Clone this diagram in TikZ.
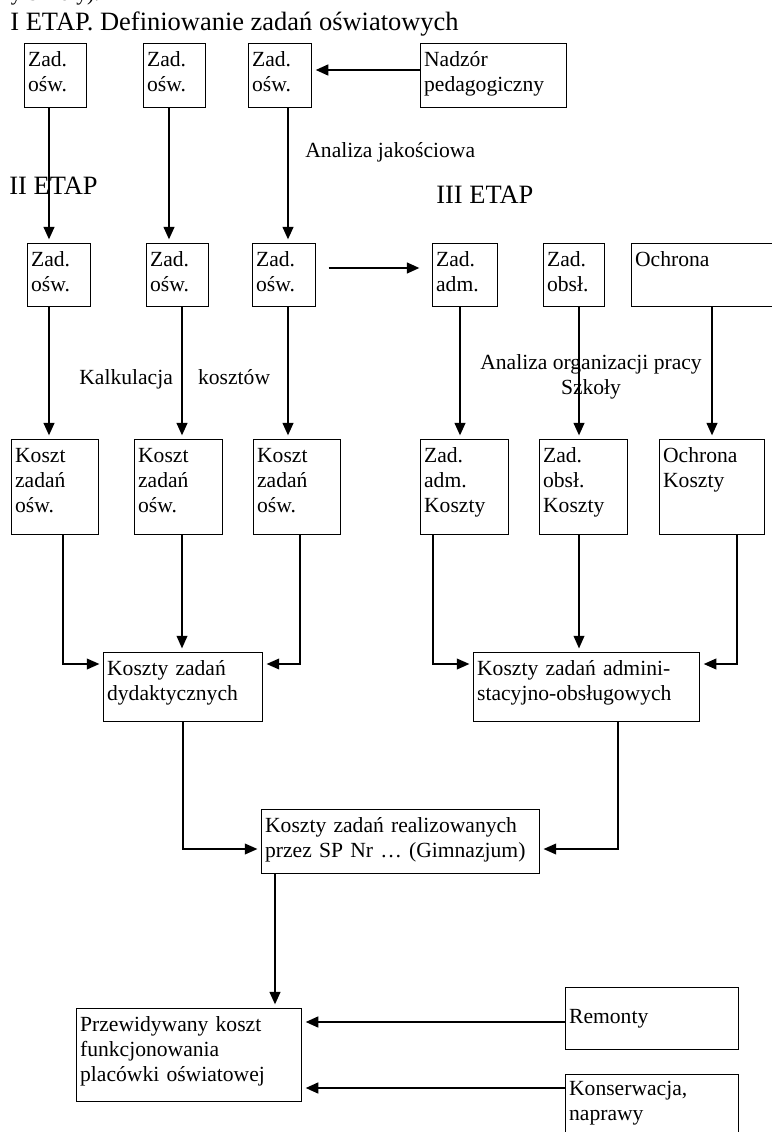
\documentclass[tikz,border=0pt]{standalone}
\usepackage{fontspec}
\setmainfont{Liberation Serif}
\usetikzlibrary{arrows.meta}

\tikzset{
    box/.style={draw, line width=0.6pt, anchor=north west, align=left,
        inner xsep=2pt, inner ysep=0pt, text height=13pt,
        font=\fontsize{12}{13.8}\selectfont},
    note/.style={inner sep=0pt, font=\fontsize{12}{13.8}\selectfont},
    stage/.style={inner sep=0pt, font=\fontsize{14.7}{17.6}\selectfont},
    flow/.style={line width=1.1pt, -{Triangle[length=7pt,width=6pt]}, shorten >=2pt},
    thin flow/.style={flow, line width=0.75pt},
}

\begin{document}
\begin{tikzpicture}[x=0.5556pt, y=-0.5556pt]
    \useasboundingbox (0,0) rectangle (772,1132);
    \clip (0,0) rectangle (772,1132);

    \node[note, anchor=base east] (prev) at (100,1) {y Szkoły).};
    \node[stage, anchor=base west] (etap1) at (10,31) {I ETAP. Definiowanie zadań oświatowych};
    \node[stage, anchor=base west] (etap2) at (9,195) {II ETAP};
    \node[stage, anchor=base west] (etap3) at (436,204) {III ETAP};
    \node[note, anchor=base west] (jakosc) at (305,158) {Analiza jakościowa};
    \node[note, anchor=base west] (kalk) at (79,384) {Kalkulacja\hspace{14pt}kosztów};
    \node[note, anchor=north, align=center] (organiz) at (591,354) {Analiza organizacji pracy\\Szkoły};

    \node[box, text width=30.4pt, text depth=22.6pt] (zad1) at (24,43) {Zad.\\ośw.};
    \node[box, text width=30.4pt, text depth=22.6pt] (zad2) at (143,43) {Zad.\\ośw.};
    \node[box, text width=31pt, text depth=22.6pt] (zad3) at (248,43) {Zad.\\ośw.};
    \node[box, text width=77.1pt, text depth=22.6pt] (nadzor) at (420,43) {Nadzór\\pedagogiczny};

    \node[box, text width=31pt, text depth=22pt] (dz1) at (27,243) {Zad.\\ośw.};
    \node[box, text width=30.4pt, text depth=22pt] (dz2) at (146,243) {Zad.\\ośw.};
    \node[box, text width=31pt, text depth=22pt] (dz3) at (252,243) {Zad.\\ośw.};
    \node[box, text width=32.1pt, text depth=22pt] (adm) at (432,243) {Zad.\\adm.};
    \node[box, text width=29.9pt, text depth=22pt] (obsl) at (543,243) {Zad.\\obsł.};
    \node[box, text width=84.9pt, text depth=22pt] (ochr) at (631,243) {Ochrona};

    \node[box, text width=44.3pt, text depth=39.8pt] (kd1) at (11,439) {Koszt\\zadań\\ośw.};
    \node[box, text width=44.9pt, text depth=39.8pt] (kd2) at (134,439) {Koszt\\zadań\\ośw.};
    \node[box, text width=44.3pt, text depth=39.8pt] (kd3) at (253,439) {Koszt\\zadań\\ośw.};
    \node[box, text width=44.9pt, text depth=39.8pt] (kadm) at (420,439) {Zad.\\adm.\\Koszty};
    \node[box, text width=44.9pt, text depth=39.8pt] (kobsl) at (539,439) {Zad.\\obsł.\\Koszty};
    \node[box, text width=54.3pt, text depth=39.8pt] (kochr) at (659,439) {Ochrona\\Koszty};

    \node[box, text width=84.3pt, text depth=25.3pt] (dyd) at (103,652) {Koszty zadań\\dydaktycznych};
    \node[box, text width=121.6pt, text depth=25.3pt] (admobs) at (473,652) {Koszty zadań admini-\\stacyjno-obsługowych};
    \node[box, text width=150.4pt, text depth=22.6pt] (szkola) at (261,809) {Koszty zadań realizowanych\\przez SP Nr … (Gimnazjum)};
    \node[box, text width=121pt, text depth=38.7pt] (koszt) at (76,1008) {Przewidywany koszt\\funkcjonowania\\placówki oświatowej};
    \node[box, text width=92.1pt, text height=20pt, text depth=14.4pt] (remonty) at (565,987) {Remonty};
    \node[box, text width=92.1pt, text height=11.7pt, text depth=38.3pt] (konserw) at (565,1074) {Konserwacja,\\naprawy};

    \foreach \n/\x in {a/49, b/169, c/288, d/182, e/460, f/579, g/712, h/63, i/300, j/433, k/737, l/183, m/618, n/275}
        \coordinate (v\n) at (\x,0);
    \foreach \n/\y in {a/70, b/268, c/664, d/849, e/1022, f/1088}
        \coordinate (h\n) at (0,\y);

    \draw[flow] (zad1.south -| va) -- (dz1.north -| va);
    \draw[flow] (zad2.south -| vb) -- (dz2.north -| vb);
    \draw[flow] (zad3.south -| vc) -- (dz3.north -| vc);
    \draw[flow] (nadzor.west |- ha) -- (zad3.east |- ha);
    \draw[flow] (dz1.south -| va) -- (kd1.north -| va);
    \draw[flow] (dz2.south -| vd) -- (kd2.north -| vd);
    \draw[flow] (dz3.south -| vc) -- (kd3.north -| vc);
    \draw[flow, shorten <=7pt, shorten >=7pt] (dz3.east |- hb) -- (adm.west |- hb);
    \draw[flow] (adm.south -| ve) -- (kadm.north -| ve);
    \draw[flow] (obsl.south -| vf) -- (kobsl.north -| vf);
    \draw[flow] (ochr.south -| vg) -- (kochr.north -| vg);
    \draw[thin flow] (kd1.south -| vh) |- (dyd.west |- hc);
    \draw[thin flow] (kd2.south -| vd) -- (dyd.north -| vd);
    \draw[thin flow] (kd3.south -| vi) |- (dyd.east |- hc);
    \draw[thin flow] (kadm.south -| vj) |- (admobs.west |- hc);
    \draw[thin flow] (kobsl.south -| vf) -- (admobs.north -| vf);
    \draw[thin flow] (kochr.south -| vk) |- (admobs.east |- hc);
    \draw[thin flow] (dyd.south -| vl) |- (szkola.west |- hd);
    \draw[thin flow] (admobs.south -| vm) |- (szkola.east |- hd);
    \draw[flow] (szkola.south -| vn) -- (koszt.north -| vn);
    \draw[flow] (remonty.west |- he) -- (koszt.east |- he);
    \draw[flow] (konserw.west |- hf) -- (koszt.east |- hf);
\end{tikzpicture}
\end{document}
